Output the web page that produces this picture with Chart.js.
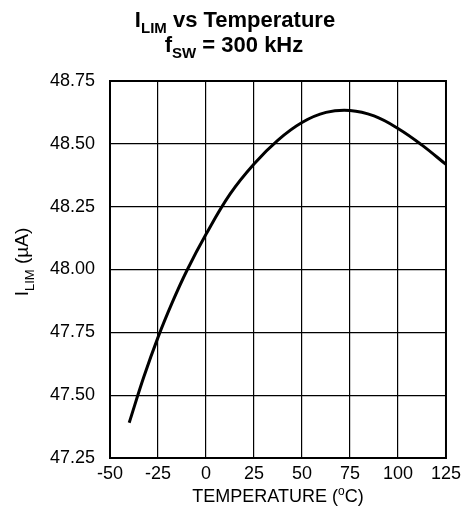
<!DOCTYPE html>
<html>
<head>
<meta charset="utf-8">
<script src="https://cdn.jsdelivr.net/npm/chart.js@4.4.0/dist/chart.umd.min.js"></script>
<style>
  body { margin: 0; background: #fff; }
  #wrap { width: 466px; height: 524px; }
</style>
</head>
<body>
<div id="wrap"><canvas id="ilim-chart" width="466" height="524"></canvas></div>
<script>
// values
const temperatures = [-40, -32.5, -25, -17.5, -10, 0, 12.5, 25, 37.5, 50, 62.5, 75, 87.5, 100, 112.5, 125];
const ilimValues = [47.39, 47.57, 47.73, 47.87, 47.995, 48.14, 48.30, 48.42, 48.515, 48.585, 48.625, 48.633, 48.611, 48.561, 48.495, 48.418];

const xMin = -50, xMax = 125, xStep = 25;
const yMin = 47.25, yMax = 48.75, yStep = 0.25;

const FONT = "'Liberation Sans', Arial, sans-serif";
const bold = s => "bold " + s + "px " + FONT;
const norm = s => s + "px " + FONT;

// draws pieces of text (with sub/superscripts) centred on x
function drawParts(ctx, parts, x, y) {
    let total = 0;
    parts.forEach(p => { ctx.font = p[1]; total += ctx.measureText(p[0]).width; });
    let cx = x - total / 2;
    parts.forEach(p => {
        ctx.font = p[1];
        ctx.fillText(p[0], cx, y + (p[2] || 0));
        cx += ctx.measureText(p[0]).width;
    });
}

const labelsPlugin = {
    id: "labels",
    afterDraw(chart) {
        const ctx = chart.ctx;
        const area = chart.chartArea;
        ctx.save();
        ctx.fillStyle = "#000";
        ctx.textAlign = "left";
        ctx.textBaseline = "alphabetic";

        // frame round the plot
        ctx.strokeStyle = "#000";
        ctx.lineWidth = 2;
        ctx.strokeRect(area.left, area.top, area.right - area.left, area.bottom - area.top);

        drawParts(ctx, [["I", bold(22)], ["LIM", bold(15), 6], [" vs Temperature", bold(22)]], 235, 27);
        drawParts(ctx, [["f", bold(22)], ["SW", bold(15), 6], [" = 300 kHz", bold(22)]], 234, 52);
        drawParts(ctx, [["TEMPERATURE (", norm(18)], ["o", norm(12), -7], ["C)", norm(18)]], (area.left + area.right) / 2, 502);

        ctx.translate(28, 262);
        ctx.rotate(-Math.PI / 2);
        drawParts(ctx, [["I", norm(19)], ["LIM", norm(13), 6], [" (\u00b5A)", norm(19)]], 0, 0);
        ctx.restore();
    }
};

const ctx = document.getElementById("ilim-chart").getContext("2d");
const ilimChart = new Chart(ctx, {
    type: "line",
    data: {
        datasets: [
            {
                data: temperatures.map((t, i) => ({ x: t, y: ilimValues[i] })),
                borderColor: "#000",
                borderWidth: 3,
                pointRadius: 0,
                fill: false,
                tension: 0.4,
            },
        ],
    },
    options: {
        responsive: false,
        animation: false,
        layout: { padding: { top: 81, right: 18, left: 0, bottom: 0 } },
        plugins: { legend: { display: false }, tooltip: { enabled: false }, title: { display: false } },
        scales: {
            x: {
                type: "linear",
                min: xMin,
                max: xMax,
                afterFit: s => { s.height = 66; },
                ticks: { stepSize: xStep, color: "#000", padding: 5, font: { family: FONT, size: 18 } },
                grid: { color: "#000", lineWidth: 1.2, drawTicks: false },
                border: { color: "#000", width: 2 },
            },
            y: {
                min: yMin,
                max: yMax,
                afterFit: s => { s.width = 110; },
                ticks: {
                    stepSize: yStep,
                    color: "#000",
                    padding: 15,
                    font: { family: FONT, size: 18 },
                    callback: v => v.toFixed(2),
                },
                grid: { color: "#000", lineWidth: 1.2, drawTicks: false },
                border: { color: "#000", width: 2 },
            },
        },
    },
    plugins: [labelsPlugin],
});
</script>
</body>
</html>
